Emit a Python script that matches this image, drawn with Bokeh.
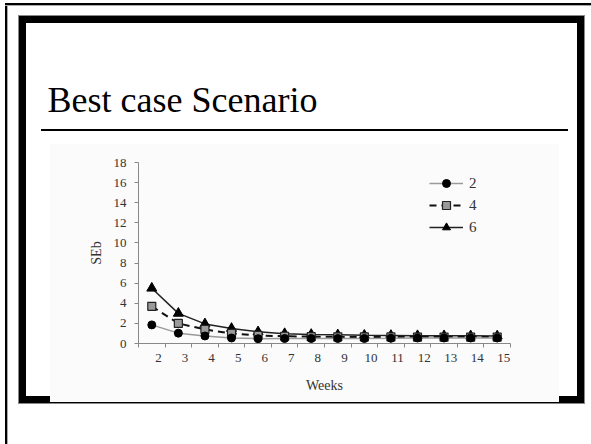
from bokeh.plotting import figure
from bokeh.models import (Legend, LegendItem, FixedTicker, Range1d)
from bokeh.embed import file_html
from bokeh.resources import INLINE

# ---- data ----
weeks = [2, 3, 4, 5, 6, 7, 8, 9, 10, 11, 12, 13, 14, 15]
se_2 = [1.85, 1.03, 0.75, 0.55, 0.48, 0.5, 0.5, 0.5, 0.5, 0.52, 0.55, 0.55, 0.55, 0.55]
se_4 = [3.7, 2.0, 1.4, 1.0, 0.8, 0.72, 0.68, 0.66, 0.65, 0.65, 0.64, 0.64, 0.64, 0.64]
se_6 = [5.5, 3.0, 1.95, 1.5, 1.16, 0.98, 0.9, 0.86, 0.82, 0.8, 0.78, 0.77, 0.76, 0.75]
y_ticks = [0, 2, 4, 6, 8, 10, 12, 14, 16, 18]
series_labels = ["2", "4", "6"]
slide_title = "Best case Scenario"
x_title = "Weeks"
y_title = "SEb"

# ---- layout (canvas px) ----
W, H = 591, 444
FL, FR, FT, FB = 138, 510, 162, 343
SERIF = "Liberation Serif"
CHART_BG = "#fbfbfb"

p = figure(width=W, height=H, output_backend="svg", toolbar_location=None,
           title=slide_title,
           x_range=Range1d(1.5, 15.5), y_range=Range1d(0, 18),
           min_border_left=FL, min_border_right=W - FR,
           min_border_top=FT, min_border_bottom=H - FB)
p.background_fill_color = CHART_BG
p.border_fill_color = None
p.outline_line_color = None
p.xgrid.grid_line_color = None
p.ygrid.grid_line_color = None

# slide decoration painted behind the (transparent) canvas
layers = [
    ("#000000", 41, 129, 527, 2),      # rule under the title
    (CHART_BG, 50, 144, 509, 258),      # pasted chart picture
    ("#ffffff", 26, 23, 551, 373),      # inside of the thick frame
    ("#000000", 19, 16, 565, 387),      # thick frame
    ("#888888", 18, 15, 567, 389),
    ("#aaaaaa", 7, 5, 1, 439),
    ("#aaaaaa", 5, 5, 586, 1),
    ("#000000", 5, 3, 2, 441),          # outer frame, left
    ("#000000", 5, 3, 586, 2),          # outer frame, top
]
bg = ", ".join(f"linear-gradient({c}, {c}) {x}px {y}px / {w}px {h}px no-repeat"
               for c, x, y, w, h in layers) + ", #ffffff"
p.styles = {"background": bg}

t = p.title
t.align = "left"
t.offset = 47 - FL
t.standoff = 86
t.text_font = SERIF
t.text_font_size = "36px"
t.text_font_style = "normal"
t.text_color = "black"

# ---- series ----
l6 = p.line(weeks, se_6, line_color="#222222", line_width=1.5)
m6 = p.scatter(weeks, se_6, marker="triangle", size=10, fill_color="black", line_color="black")
l4 = p.line(weeks, se_4, line_color="#111111", line_width=2, line_dash="7 5")
m4 = p.scatter(weeks, se_4, marker="square", size=8, fill_color="#9a9a9a", line_color="#222222", line_width=1.2)
l2 = p.line(weeks, se_2, line_color="#9a9a9a", line_width=1.5)
m2 = p.scatter(weeks, se_2, marker="circle", size=8, fill_color="black", line_color="black")

# ---- axes ----
xa = p.xaxis[0]
xa.ticker = FixedTicker(ticks=[w + 0.25 for w in weeks],
                        minor_ticks=[w - 0.5 for w in weeks] + [weeks[-1] + 0.5])
overrides = {}
for w in weeks:
    overrides[w + 0.25] = str(w)
    overrides[str(w + 0.25)] = str(w)
xa.major_label_overrides = overrides
xa.major_tick_line_color = None
xa.major_tick_out = 4
xa.major_tick_in = 0
xa.minor_tick_line_color = "#888888"
xa.minor_tick_out = 4
xa.minor_tick_in = 0
xa.axis_line_color = "#888888"
xa.major_label_standoff = 6
xa.major_label_text_font = SERIF
xa.major_label_text_font_size = "13px"
xa.major_label_text_color = "#333333"
xa.axis_label = x_title
xa.axis_label_text_font = SERIF
xa.axis_label_text_font_size = "14px"
xa.axis_label_text_font_style = "normal"
xa.axis_label_text_color = "#333333"
xa.axis_label_standoff = 13

ya = p.yaxis[0]
ya.ticker = FixedTicker(ticks=y_ticks)
ya.major_tick_line_color = "#888888"
ya.major_tick_out = 4
ya.major_tick_in = 0
ya.minor_tick_line_color = None
ya.axis_line_color = "#888888"
ya.major_label_standoff = 8
ya.major_label_text_font = SERIF
ya.major_label_text_font_size = "13px"
ya.major_label_text_color = "#333333"
ya.axis_label = y_title
ya.axis_label_text_font = SERIF
ya.axis_label_text_font_size = "14px"
ya.axis_label_text_font_style = "normal"
ya.axis_label_text_color = "#333333"
ya.axis_label_standoff = 7

# ---- legend ----
legend = Legend(items=[
    LegendItem(label=series_labels[0], renderers=[l2, m2]),
    LegendItem(label=series_labels[1], renderers=[l4, m4]),
    LegendItem(label=series_labels[2], renderers=[l6, m6]),
], location=(291, 106), glyph_width=34, glyph_height=20, label_height=20,
    spacing=2, padding=0, margin=0, label_standoff=6,
    border_line_color=None, background_fill_alpha=0,
    label_text_font=SERIF, label_text_font_size="15px", label_text_color="#333333")
p.add_layout(legend)

open("out.html", "w").write(file_html(p, INLINE))
